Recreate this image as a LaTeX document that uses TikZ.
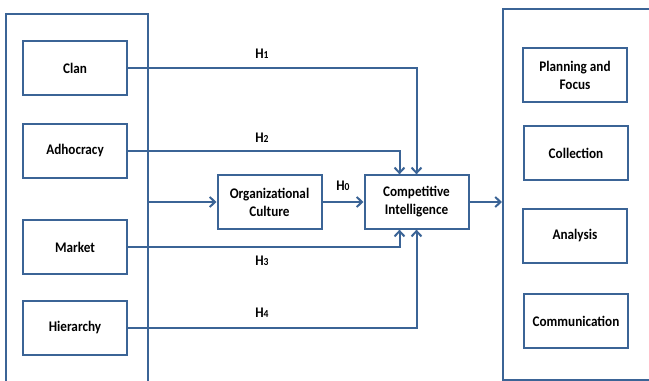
\documentclass[tikz,border=0pt]{standalone}
\usepackage{fontspec}
\setmainfont{Carlito}[FakeStretch=0.9]
\usetikzlibrary{arrows.meta}
\definecolor{frame}{HTML}{3B6496}
\begin{document}
\begin{tikzpicture}[x=0.75pt,y=-0.75pt,
  box/.style={draw=frame,line width=1.5pt,fill=white,minimum width=78pt,
    minimum height=40pt,inner sep=0pt,align=center,
    font=\bfseries\fontsize{11}{13.5}\selectfont},
  group/.style={draw=frame,line width=1.5pt,inner sep=0pt},
  link/.style={draw=frame,line width=1.5pt,-{Straight Barb[length=4pt,width=7.5pt]}},
  hyp/.style={font=\bfseries\fontsize{11}{12}\selectfont,inner sep=0pt}]
\newcommand{\hnum}[1]{H{\fontsize{8}{9}\selectfont #1}}
\useasboundingbox (0,0) rectangle (649,381);
\clip (0,0) rectangle (649,381);

% containers for the culture types and the intelligence phases
\node[group,minimum width=106.5pt,minimum height=289.5pt] (types) at (77,207) {};
\node[group,minimum width=117.75pt,minimum height=278.25pt] (phases) at (581.5,194.5) {};

% culture types
\node[box] (clan)   at (75,68)  {Clan};
\node[box] (adhoc)  at (75,151) {Adhocracy};
\node[box] (market) at (75,247) {Market};
\node[box] (hier)   at (75,328) {Hierarchy};

% central constructs
\node[box] (org) at (269.5,202) {Organizational\\Culture};
\node[box] (ci)  at (416.5,202) {Competitive\\Intelligence};

% intelligence cycle phases
\node[box] (plan) at (575,75)  {Planning and\\Focus};
\node[box] (coll) at (576,153) {Collection};
\node[box] (anal) at (575,236) {Analysis};
\node[box] (comm) at (576,321) {Communication};

% hypothesis paths
\draw[link] (clan.east) -| (ci.north);
\draw[link] (adhoc.east) -| ([xshift=-12.75pt]ci.north);
\draw[link] (market.east) -| ([xshift=-12.75pt]ci.south);
\draw[link] (hier.east) -| (ci.south);
\draw[link] (types.east |- org.west) -- (org.west);
\draw[link] (org.east) -- (ci.west);
\draw[link] (ci.east) -- (ci.east -| phases.west);

% hypothesis labels
\node[hyp] (h1) at (262,54)  {\hnum{1}};
\node[hyp] (h2) at (262,138) {\hnum{2}};
\node[hyp] (h0) at (343,186) {\hnum{0}};
\node[hyp] (h3) at (262,261) {\hnum{3}};
\node[hyp] (h4) at (262,313) {\hnum{4}};
\end{tikzpicture}
\end{document}
